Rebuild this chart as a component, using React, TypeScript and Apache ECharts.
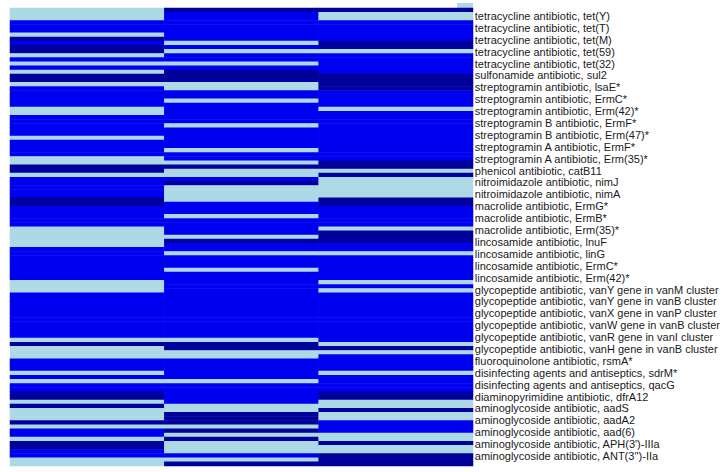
import React, { useEffect, useRef } from "react";
import * as echarts from "echarts";

// Sample columns of the heat map (left to right)
const samples = ["Sample 1", "Sample 2", "Sample 3"];

// Gene labels, top to bottom
const geneLabels = [
  "tetracycline antibiotic, tet(Y)",
  "tetracycline antibiotic, tet(T)",
  "tetracycline antibiotic, tet(M)",
  "tetracycline antibiotic, tet(59)",
  "tetracycline antibiotic, tet(32)",
  "sulfonamide antibiotic, sul2",
  "streptogramin antibiotic, lsaE*",
  "streptogramin antibiotic, ErmC*",
  "streptogramin antibiotic, Erm(42)*",
  "streptogramin B antibiotic, ErmF*",
  "streptogramin B antibiotic, Erm(47)*",
  "streptogramin A antibiotic, ErmF*",
  "streptogramin A antibiotic, Erm(35)*",
  "phenicol antibiotic, catB11",
  "nitroimidazole antibiotic, nimJ",
  "nitroimidazole antibiotic, nimA",
  "macrolide antibiotic, ErmG*",
  "macrolide antibiotic, ErmB*",
  "macrolide antibiotic, Erm(35)*",
  "lincosamide antibiotic, lnuF",
  "lincosamide antibiotic, linG",
  "lincosamide antibiotic, ErmC*",
  "lincosamide antibiotic, Erm(42)*",
  "glycopeptide antibiotic, vanY gene in vanM cluster",
  "glycopeptide antibiotic, vanY gene in vanB cluster",
  "glycopeptide antibiotic, vanX gene in vanP cluster",
  "glycopeptide antibiotic, vanW gene in vanB cluster",
  "glycopeptide antibiotic, vanR gene in vanI cluster",
  "glycopeptide antibiotic, vanH gene in vanB cluster",
  "fluoroquinolone antibiotic, rsmA*",
  "disinfecting agents and antiseptics, sdrM*",
  "disinfecting agents and antiseptics, qacG",
  "diaminopyrimidine antibiotic, dfrA12",
  "aminoglycoside antibiotic, aadS",
  "aminoglycoside antibiotic, aadA2",
  "aminoglycoside antibiotic, aad(6)",
  "aminoglycoside antibiotic, APH(3')-IIIa",
  "aminoglycoside antibiotic, ANT(3'')-IIa",
];

// Heat levels per row (0 = low / light, 1 = mid / blue, 2 = high / dark)
const sample1 = [
  0, 0, 0, 1, 1, 1, 0, 2, 1, 2,
  2, 0, 1, 0, 1, 0, 2, 2, 0, 1,
  1, 1, 1, 1, 0, 0, 1, 1, 1, 1,
  1, 0, 1, 1, 1, 1, 0, 0, 2, 2,
  0, 1, 1, 1, 1, 1, 2, 2, 1, 1,
  1, 1, 1, 0, 0, 0, 0, 0, 1, 1,
  1, 1, 1, 1, 1, 1, 0, 0, 0, 1,
  1, 1, 1, 1, 1, 1, 1, 1, 1, 1,
  0, 2, 0, 0, 0, 1, 1, 1, 0, 1,
  0, 1, 1, 2, 2, 0, 2, 0, 0, 0,
  2, 0, 1, 1, 0, 2, 2, 1, 1, 0,
  0,
];
const sample2 = [
  2, 1, 1, 1, 1, 1, 1, 1, 0, 1,
  0, 1, 1, 0, 1, 2, 2, 2, 0, 0,
  1, 1, 0, 1, 1, 1, 1, 1, 0, 1,
  1, 1, 1, 1, 0, 1, 1, 0, 2, 0,
  0, 1, 2, 0, 0, 0, 0, 1, 1, 1,
  0, 1, 1, 1, 1, 0, 2, 1, 1, 0,
  1, 1, 1, 0, 1, 1, 1, 1, 1, 1,
  1, 1, 1, 1, 1, 1, 1, 1, 1, 1,
  0, 2, 2, 0, 0, 1, 1, 1, 1, 1,
  0, 1, 1, 1, 1, 1, 0, 0, 2, 2,
  2, 0, 2, 0, 2, 0, 0, 0, 1, 0,
  2,
];
const sample3 = [
  2, 0, 0, 1, 1, 1, 1, 1, 2, 2,
  0, 1, 1, 1, 1, 1, 2, 2, 2, 2,
  1, 1, 1, 1, 0, 1, 1, 1, 1, 1,
  1, 1, 1, 1, 1, 1, 1, 2, 2, 0,
  2, 0, 0, 0, 0, 0, 2, 2, 1, 1,
  1, 1, 1, 0, 2, 2, 2, 1, 1, 0,
  1, 1, 1, 1, 1, 1, 0, 1, 0, 1,
  1, 1, 1, 1, 1, 1, 1, 1, 1, 1,
  1, 0, 2, 0, 1, 1, 1, 1, 0, 1,
  1, 1, 1, 2, 2, 0, 0, 2, 0, 0,
  1, 1, 1, 0, 0, 2, 0, 0, 2, 2,
  2,
];

const levelColors = ["#ADD8E6", "#0000F0", "#00009A"];

export default function App() {
  const ref = useRef<HTMLDivElement>(null);
  useEffect(() => {
    if (!ref.current) return;
    const chart = echarts.init(ref.current, null, { renderer: "svg" });
    const columns = [sample1, sample2, sample3];
    const rowNames = sample1.map((_, i) => "row" + i);
    const data: number[][] = [];
    columns.forEach((col, x) => col.forEach((v, y) => data.push([x, y, v])));
    chart.setOption({
      animation: false,
      grid: [
        { left: 10, right: 250, top: 8, bottom: 6 },
        { left: 10, right: 250, top: 10, bottom: 10 },
      ],
      xAxis: [
        { type: "category", data: samples, gridIndex: 0, show: false },
        { type: "category", data: samples, gridIndex: 1, show: false },
      ],
      yAxis: [
        { type: "category", data: rowNames, inverse: true, gridIndex: 0, show: false },
        {
          type: "category",
          data: geneLabels,
          inverse: true,
          gridIndex: 1,
          position: "right",
          axisLine: { show: false },
          axisTick: { show: false },
          splitLine: { show: false },
          axisLabel: {
            interval: 0,
            fontSize: 11,
            fontFamily: "'Liberation Sans', Arial, sans-serif",
            color: "#1a1a1a",
            margin: 12,
          },
        },
      ],
      visualMap: {
        type: "piecewise",
        show: false,
        dimension: 2,
        seriesIndex: 0,
        pieces: [
          { value: 0, color: levelColors[0] },
          { value: 1, color: levelColors[1] },
          { value: 2, color: levelColors[2] },
        ],
      },
      series: [
        {
          type: "heatmap",
          xAxisIndex: 0,
          yAxisIndex: 0,
          data,
          itemStyle: { borderWidth: 0 },
        },
      ],
      graphic: [
        {
          type: "rect",
          shape: { x: 457, y: 3, width: 16, height: 5 },
          style: { fill: levelColors[0] },
        },
      ],
    });
    return () => chart.dispose();
  }, []);
  return (
    <div
      ref={ref}
      style={{ position: "absolute", left: 0, top: 0, width: 723, height: 472 }}
    />
  );
}
